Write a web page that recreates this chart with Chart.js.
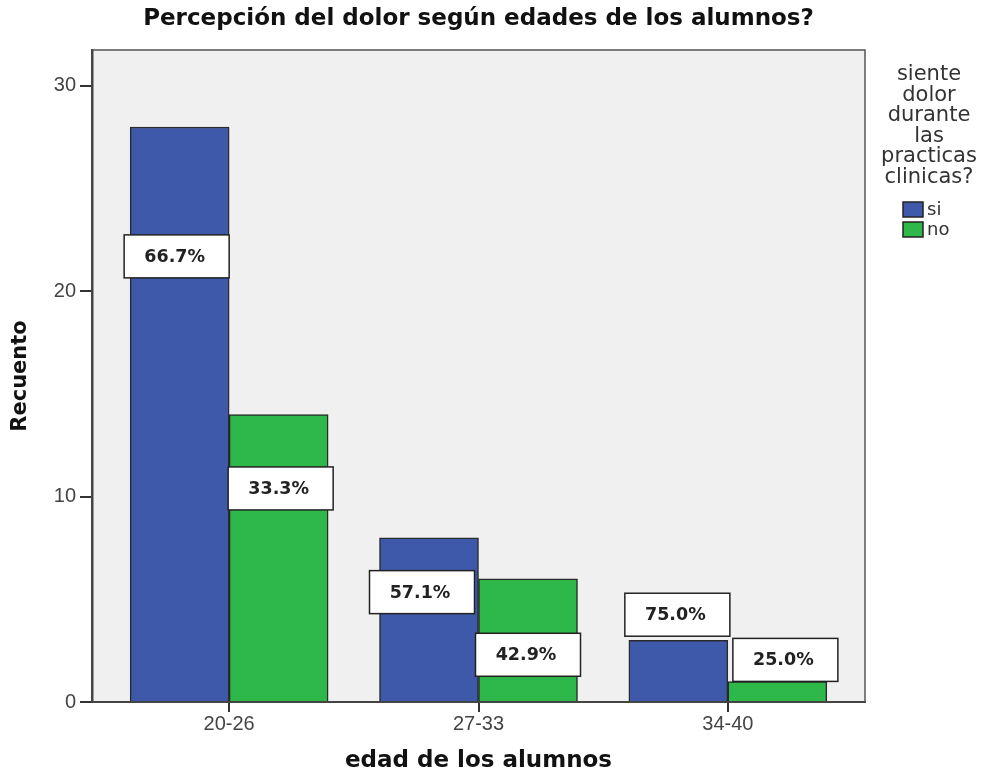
<!DOCTYPE html>
<html>
<head>
<meta charset="utf-8">
<script src="https://cdn.jsdelivr.net/npm/chart.js@4.4.0/dist/chart.umd.min.js"></script>
<style>
  html, body { margin: 0; padding: 0; background: #fff; }
  #wrap { width: 982px; height: 775px; }
</style>
</head>
<body>
<div id="wrap"><canvas id="chart"></canvas></div>
<script>
// age groups and how many students answered si / no
const ageGroups = ["20-26", "27-33", "34-40"];
const siCounts = [28, 8, 3];
const noCounts = [14, 6, 1];
const legendTitle = ["siente", "dolor", "durante", "las", "practicas", "clinicas?"];

const BLUE = "#3e58aa";
const GREEN = "#2eb84a";

// percentage of each answer inside its age group
function pct(count, i) {
    const total = siCounts[i] + noCounts[i];
    return (count / total * 100).toFixed(1) + "%";
}

// where the SPSS-style label boxes sit (value units) plus a small x nudge in px
const labelAt = [[21.7, 5.35, 4.25], [10.4, 2.3, 2.05]];
const labelNudge = [[-3, -7, -1], [2, 0, 8]];

const boxLabels = {
    id: "boxLabels",
    afterDatasetsDraw(chart) {
        const ctx = chart.ctx;
        const y = chart.scales.y;
        ctx.save();
        ctx.font = "bold 17.5px 'DejaVu Sans'";
        ctx.textAlign = "center";
        ctx.textBaseline = "middle";
        chart.data.datasets.forEach((ds, d) => {
            const counts = d === 0 ? siCounts : noCounts;
            chart.getDatasetMeta(d).data.forEach((bar, i) => {
                const cx = bar.x + labelNudge[d][i];
                const cy = y.getPixelForValue(labelAt[d][i]);
                const w = 105, h = 43;
                ctx.fillStyle = "#fff";
                ctx.fillRect(cx - w / 2, cy - h / 2, w, h);
                ctx.strokeStyle = "#222";
                ctx.lineWidth = 1.5;
                ctx.strokeRect(cx - w / 2, cy - h / 2, w, h);
                ctx.fillStyle = "#222";
                ctx.fillText(pct(counts[i], i), cx - 2, cy + 1);
            });
        });
        ctx.restore();
    }
};

// plot background, frame and the legend on the right
const frame = {
    id: "frame",
    beforeDraw(chart) {
        const {ctx, chartArea: a} = chart;
        ctx.save();
        ctx.fillStyle = "#fff";
        ctx.fillRect(0, 0, chart.width, chart.height);
        ctx.fillStyle = "#f0f0f0";
        ctx.fillRect(a.left, a.top, a.right - a.left, a.bottom - a.top);
        ctx.restore();
    },
    afterDraw(chart) {
        const {ctx, chartArea: a} = chart;
        ctx.save();
        ctx.strokeStyle = "#555";
        ctx.lineWidth = 1.5;
        ctx.beginPath();
        ctx.moveTo(a.left, a.top);
        ctx.lineTo(a.right, a.top);
        ctx.lineTo(a.right, a.bottom);
        ctx.stroke();

        // legend
        const lx = 929;
        ctx.fillStyle = "#333";
        ctx.font = "21px 'DejaVu Sans'";
        ctx.textAlign = "center";
        ctx.textBaseline = "middle";
        legendTitle.forEach((t, k) => ctx.fillText(t, lx, 75 + k * 20.5));
        ctx.textAlign = "left";
        ctx.font = "18px 'DejaVu Sans'";
        chart.data.datasets.forEach((ds, d) => {
            const by = 202 + d * 20;
            ctx.fillStyle = ds.backgroundColor;
            ctx.fillRect(903, by, 20, 15);
            ctx.strokeStyle = "#222";
            ctx.lineWidth = 1.5;
            ctx.strokeRect(903, by, 20, 15);
            ctx.fillStyle = "#333";
            ctx.fillText(ds.label, 927, by + 8);
        });
        ctx.restore();
    }
};

new Chart(document.getElementById("chart"), {
    type: "bar",
    data: {
        datasets: [
            {
                label: "si",
                data: siCounts.map((v, i) => ({x: i, y: v})),
                backgroundColor: BLUE,
                borderColor: "#2a2a2a",
                borderWidth: 1.5,
                barThickness: 99
            },
            {
                label: "no",
                data: noCounts.map((v, i) => ({x: i, y: v})),
                backgroundColor: GREEN,
                borderColor: "#2a2a2a",
                borderWidth: 1.5,
                barThickness: 99
            }
        ]
    },
    options: {
        responsive: true,
        maintainAspectRatio: false,
        animation: false,
        layout: { padding: { left: 0, right: 117, top: 0, bottom: 0 } },
        plugins: {
            legend: { display: false },
            tooltip: { enabled: false },
            title: {
                display: true,
                fullSize: false,
                text: "Percepción del dolor según edades de los alumnos?",
                color: "#111",
                font: { family: "DejaVu Sans", size: 23, weight: "bold" },
                padding: { top: 5, bottom: 17.4 }
            }
        },
        scales: {
            x: {
                type: "linear",
                offset: false,
                min: -0.55,
                max: 2.55,
                afterBuildTicks: s => { s.ticks = ageGroups.map((g, i) => ({value: i})); },
                afterFit: s => { s.height = 73; },
                ticks: {
                    callback: v => ageGroups[v],
                    color: "#444",
                    padding: 0,
                    font: { family: "Liberation Sans", size: 20 }
                },
                grid: { offset: false, drawOnChartArea: false, drawTicks: true, tickLength: 10, color: "#333", lineWidth: 2 },
                border: { display: true, color: "#444", width: 2 },
                title: {
                    display: true,
                    text: "edad de los alumnos",
                    color: "#111",
                    font: { family: "DejaVu Sans", size: 23, weight: "bold" },
                    padding: { top: 0, bottom: 0 }
                }
            },
            y: {
                min: 0,
                max: 31.75,
                afterFit: s => { s.width = 92; },
                ticks: {
                    stepSize: 10,
                    includeBounds: false,
                    color: "#444",
                    padding: 4,
                    font: { family: "Liberation Sans", size: 20 }
                },
                grid: { drawOnChartArea: false, drawTicks: true, tickLength: 12, color: "#333", lineWidth: 2 },
                border: { display: true, color: "#444", width: 2.5 },
                title: {
                    display: true,
                    text: "Recuento",
                    color: "#111",
                    font: { family: "DejaVu Sans", size: 21, weight: "bold" },
                    padding: { top: 8, bottom: 0 }
                }
            }
        }
    },
    plugins: [frame, boxLabels]
});
</script>
</body>
</html>
